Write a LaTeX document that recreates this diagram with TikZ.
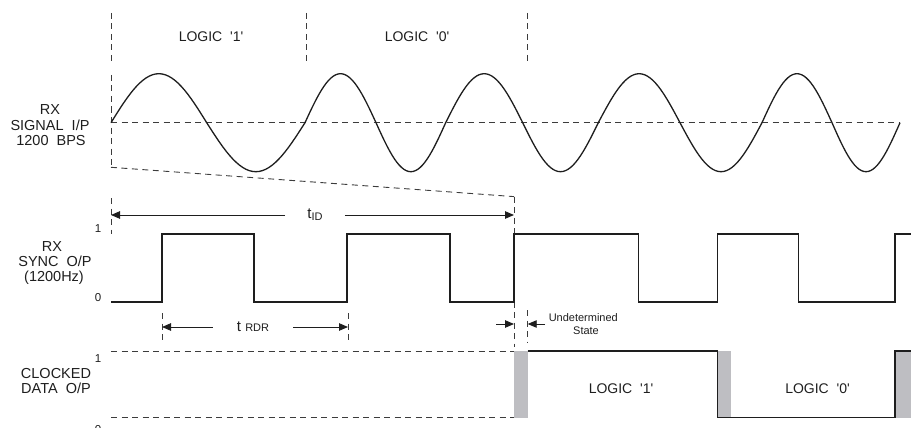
\documentclass[tikz,border=0pt]{standalone}
\usepackage{fontspec}
\setmainfont{Liberation Sans}
\usetikzlibrary{arrows.meta}
\definecolor{greyfill}{RGB}{190,190,194}
\definecolor{ink}{RGB}{30,30,30}
\definecolor{dashink}{RGB}{60,60,60}
\newcommand\fsz[1]{\fontsize{#1}{#1}\selectfont}
\newcommand\q{\textquotesingle}
\begin{document}
\begin{tikzpicture}[x=1pt,y=-1pt,
  sig/.style={ink,line width=1.3pt,line join=round},
  sq/.style={ink,line width=1.4pt,line join=miter},
  dashln/.style={dashink,line width=0.9pt,dash pattern=on 6pt off 4.5pt},
  arr/.style={ink,line width=0.9pt,-{Triangle[length=9pt,width=7.5pt]}},
  lbl/.style={font=\fsz{14.5},anchor=base,inner sep=0pt,text=ink},
  logic/.style={font=\fsz{14},anchor=base,inner sep=0pt,text=ink},
  lvl/.style={font=\fsz{11.5},anchor=base,inner sep=0pt,text=ink},
  small/.style={font=\fsz{11},anchor=base,inner sep=0pt,text=ink}]
\useasboundingbox (0,0) rectangle (911,428);

% ---------- top bit markers ----------
\draw[dashln] (111,13) -- (111,61);
\draw[dashln] (306,13) -- (306,61);
\draw[dashln] (527,13) -- (527,61);
\node[logic] (top1) at (211,42) {LOGIC~~\q1\q};
\node[logic] (top0) at (417,42) {LOGIC~~\q0\q};

% ---------- RX signal ----------
\node[lbl] (l1a) at (50,114) {RX};
\node[lbl] (l1b) at (50,130) {SIGNAL~~I/P};
\node[lbl] (l1c) at (51,146) {1200~~BPS};
\draw[dashln] (111,75) -- (111,167);
\draw[dashln] (111,122.7) -- (900,122.7);
\draw[sig] (111,122.7)
  \foreach \a/\b/\s in {111/206.7/-1, 206.7/305/1, 305/376/-1, 376/445.7/1,
     445.7/522.7/-1, 522.7/598.3/1, 598.3/680/-1, 680/762/1, 762/832/-1, 832/900/1}
  { -- plot[domain=0:180,samples=31,variable=\t] ({\a+(\b-\a)*(\t/180)},{122.7+\s*49*sin(\t)}) };

% slanted delay guide
\coordinate (sl1) at (111,167.3);
\coordinate (sl2) at (514,196.6);
\draw[dashln] (sl1) -- (sl2);
\draw[dashln] (sl2) -- (514,347);

% ---------- RX sync ----------
\node[lbl] (l2a) at (52,251) {RX};
\node[lbl] (l2b) at (55,266.5) {SYNC~~O/P};
\node[lbl] (l2c) at (54,281) {(1200Hz)};
\node[lvl] (s1) at (98,232) {1};
\node[lvl] (s0) at (98,301.7) {0};
\draw[dashln] (111,198) -- (111,234);
\draw[sq] (111,302) -- (162,302) -- (162,234) -- (254,234) -- (254,302)
  -- (347,302) -- (347,234) -- (450,234) -- (450,302) -- (514,302)
  -- (514,234) -- (638.3,234) -- (638.3,302) -- (717.7,302) -- (717.7,234)
  -- (798.3,234) -- (798.3,302) -- (895,302) -- (895,234) -- (911,234);

% t_ID
\coordinate (tidL) at (111,215);
\coordinate (tidR) at (514,215);
\node[font=\fsz{15},text=ink,inner xsep=22pt,inner ysep=0pt] (tid) at (315,215)
  {t\fsz{11}\raisebox{-2pt}{ID}};
\draw[arr] (tid) -- (tidL);
\draw[arr] (tid) -- (tidR);

% t_RDR
\draw[dashln] (162,313) -- (162,342);
\draw[dashln] (348,313) -- (348,342);
\coordinate (trL) at (162,327);
\coordinate (trR) at (348,327);
\node[font=\fsz{15},text=ink,inner xsep=24pt,inner ysep=0pt] (trdr) at (253,327)
  {t~{\fsz{11}RDR}};
\draw[arr] (trdr) -- (trL);
\draw[arr] (trdr) -- (trR);

% undetermined state
\draw[dashln] (527.7,310) -- (527.7,342);
\coordinate (u1) at (496,324);
\coordinate (u2) at (514,324);
\coordinate (u3) at (545,324);
\coordinate (u4) at (527.7,324);
\draw[arr] (u1) -- (u2);
\draw[arr] (u3) -- (u4);
\node[small] (und) at (583.3,321) {Undetermined};
\node[small] (sta) at (586,334.5) {State};

% ---------- clocked data ----------
\node[lbl] (l3a) at (56,378.5) {CLOCKED};
\node[lbl] (l3b) at (56,393) {DATA~~O/P};
\node[lvl] (c1) at (98,362.7) {1};
\node[lvl] (c0) at (98,433) {0};
\draw[dashln] (111,351) -- (514,351);
\draw[dashln] (111,417.5) -- (514,417.5);
\fill[greyfill] (514.3,351) rectangle (527.7,417.5);
\fill[greyfill] (717.7,351) rectangle (731,417.5);
\fill[greyfill] (895,351) rectangle (910.5,417.5);
\draw[sq] (527.7,351) -- (717.7,351) -- (717.7,417.5) -- (895,417.5) -- (895,351) -- (911,351);
\node[logic] (b1) at (621,393.3) {LOGIC~~\q1\q};
\node[logic] (b0) at (817.5,393.3) {LOGIC~~\q0\q};
\end{tikzpicture}
\end{document}
